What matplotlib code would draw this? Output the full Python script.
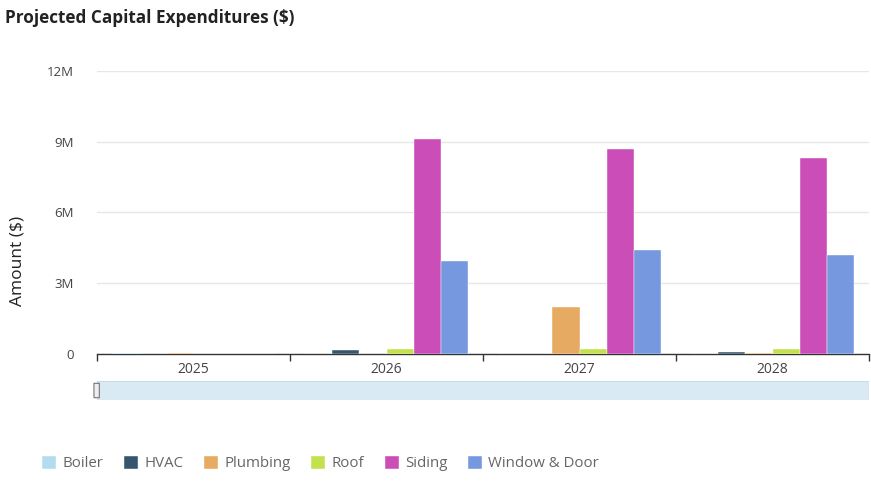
import matplotlib
matplotlib.use('Agg')
import matplotlib.pyplot as plt
import numpy as np
from matplotlib.patches import Rectangle, FancyBboxPatch

plt.rcParams['font.family'] = ['Open Sans', 'DejaVu Sans']

years = ['2025', '2026', '2027', '2028']
series = ['Boiler', 'HVAC', 'Plumbing', 'Roof', 'Siding', 'Window & Door']
colors = ['#b3dcef', '#36566e', '#e6aa62', '#c3e14c', '#cb4db8', '#7598de']

# values in dollars
boiler = [30000, 0, 0, 0]
hvac = [0, 170000, 0, 80000]
plumbing = [30000, 0, 2000000, 50000]
roof = [0, 210000, 210000, 220000]
siding = [0, 9110000, 8700000, 8330000]
window_door = [0, 3940000, 4410000, 4190000]
values = [boiler, hvac, plumbing, roof, siding, window_door]

fig = plt.figure(figsize=(8.71, 4.82), dpi=100)
ax = fig.add_axes([0.1114, 0.2656, 0.8863, 0.5871])

x = np.arange(len(years))
w = 0.14
for i, (name, vals, c) in enumerate(zip(series, values, colors)):
    ax.bar(x + (i - 2.5) * w, vals, width=w, color=c, label=name,
           edgecolor='white', linewidth=0.3, zorder=3)

ax.set_xlim(-0.5, len(years) - 0.5)
ax.set_ylim(0, 12e6)
ax.set_yticks([0, 3e6, 6e6, 9e6, 12e6])
ax.set_yticklabels(['0', '3M', '6M', '9M', '12M'])
ax.yaxis.grid(True, color='#e6e6e6', linewidth=1, zorder=0)
ax.tick_params(axis='y', length=0, pad=17, labelsize=9.5, labelcolor='#444444')

# category boundaries as tick marks, labels centred in between
ax.set_xticks(np.arange(-0.5, len(years), 1.0))
ax.set_xticklabels([])
ax.set_xticks(x, minor=True)
ax.set_xticklabels(years, minor=True)
ax.tick_params(axis='x', which='major', length=5, width=1, color='#333333', direction='out')
ax.tick_params(axis='x', which='minor', length=0, pad=6, labelsize=10, labelcolor='#444444')

for s in ['top', 'right', 'left']:
    ax.spines[s].set_visible(False)
ax.spines['bottom'].set_color('#333333')
ax.spines['bottom'].set_linewidth(1)

ax.set_ylabel('Amount ($)', fontsize=12.5, color='#222222')
ax.yaxis.set_label_coords(-0.093, 0.33)

fig.text(0.006, 0.963, 'Projected Capital Expenditures ($)', fontsize=12.3,
         fontweight='bold', color='#222222', ha='left', va='center')

# range slider strip under the axis
sax = fig.add_axes([0.1114, 0.1701, 0.8863, 0.0394])
sax.set_xlim(0, 1)
sax.set_ylim(0, 1)
sax.axis('off')
sax.add_patch(Rectangle((0, 0), 1, 1, facecolor='#d9eaf5', edgecolor='#c6dcea', linewidth=0.8))
sax.add_patch(FancyBboxPatch((-0.004, 0.12), 0.007, 0.76, boxstyle='round,pad=0,rounding_size=0.003',
                             facecolor='#eeeeee', edgecolor='#777777', linewidth=0.8, clip_on=False))

handles, labels = ax.get_legend_handles_labels()
leg = fig.legend(handles, labels, loc='center left', bbox_to_anchor=(0.033, 0.038), ncol=6,
                 frameon=False, fontsize=10.8, handlelength=0.95, handleheight=0.95,
                 handletextpad=0.4, columnspacing=1.38, labelcolor='#666666')

fig.savefig('out.png', dpi=100)
